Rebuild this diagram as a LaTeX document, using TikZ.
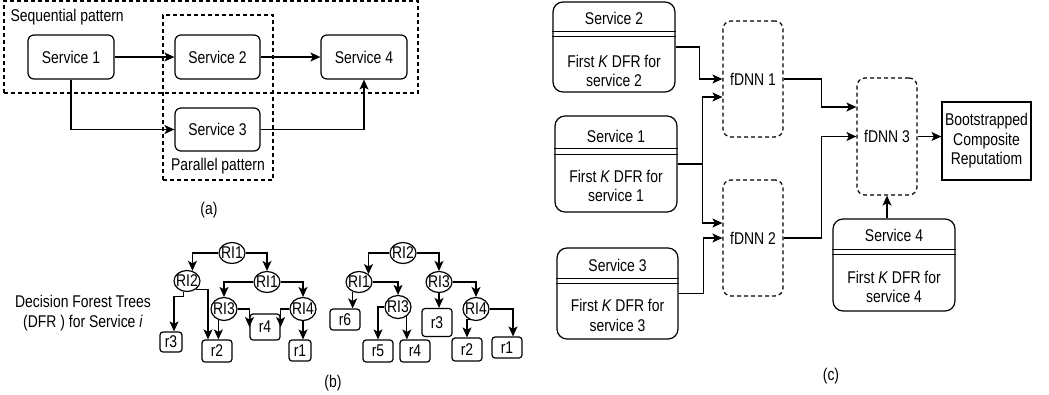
\documentclass[tikz,border=0pt]{standalone}
\usepackage{fontspec}
\setmainfont{Liberation Sans}[FakeStretch=0.82]
\usetikzlibrary{arrows.meta,shapes.geometric,calc}
\begin{document}
\begin{tikzpicture}[x=1pt,y=-1pt,
  every node/.style={font=\fontsize{17}{19.5}\selectfont, inner sep=0pt},
  line width=1.2pt,
  arr/.style={-{Stealth[length=10pt,width=9pt,inset=2.5pt]}},
  sbox/.style={draw, rounded corners=6pt, minimum width=86pt, minimum height=44pt},
  grp/.style={draw, dash pattern=on 4pt off 3pt},
  rinode/.style={draw, ellipse, minimum width=26pt, minimum height=21pt},
  leaf/.style={draw, rounded corners=3pt, minimum width=30pt, minimum height=22pt},
  lane/.style={draw, rounded corners=10pt, minimum width=122pt},
  fdnn/.style={draw, dash pattern=on 4pt off 3pt, rounded corners=8pt, minimum width=60pt, minimum height=116pt},
]
\useasboundingbox (0,0) rectangle (1049,394);

% ---------------- (a) ----------------
\node[grp, minimum width=414pt, minimum height=92pt] (seq) at (211,47) {};
\node[grp, minimum width=110pt, minimum height=165pt] (par) at (218,97.5) {};
\node[anchor=west] (seql) at (10,17) {Sequential pattern};
\node (parl) at (218,166) {Parallel pattern};
\node[sbox] (s1) at (71,57) {Service 1};
\node[sbox, minimum width=85pt] (s2) at (217.5,57) {Service 2};
\node[sbox] (s4) at (364,57) {Service 4};
\node[sbox, minimum width=85pt, minimum height=43pt] (s3) at (217.5,129.5) {Service 3};
\draw[arr] (s1.east) -- (s2.west);
\draw[arr] (s2.east) -- (s4.west);
\draw[arr] (s1.south) |- (s3.west);
\draw[arr] (s3.east) -| (s4.south);
\node (capa) at (209,210) {(a)};

% ---------------- (b) ----------------
\node[align=center] (dfr) at (83,313) {Decision Forest Trees\\(DFR ) for Service \textit{i}};
% tree 1
\node[rinode] (ta) at (232,253) {\makebox[0pt]{RI1}};
\node[rinode] (tb) at (187,281) {\makebox[0pt]{RI2}};
\node[rinode] (tc) at (267,282) {\makebox[0pt]{RI1}};
\node[rinode, minimum height=23pt] (td) at (224,309) {\makebox[0pt]{RI3}};
\node[rinode, minimum height=23pt] (te) at (303,309) {\makebox[0pt]{RI4}};
\node[leaf, minimum width=22pt, minimum height=20pt] (u3) at (171,342) {r3};
\node[leaf] (u2) at (217,351) {r2};
\node[leaf, minimum height=26pt] (u4) at (265,327) {r4};
\node[leaf, minimum width=22pt, minimum height=21pt] (u1) at (300,350.5) {r1};
\draw[arr] (ta.west) -| (tb.62);
\draw[arr] (ta.east) -| (tc.north);
\draw[arr] (tb.250) -- ++(0,5) -| ([xshift=3pt]u3.north);
\draw[arr] (tb.-45) -| ([xshift=-9pt]u2.north);
\draw[arr] (tc.west) -| (td.north);
\draw[arr] (tc.east) -| (te.north);
\draw[arr] (td.243) -- (td.243 |- u2.north);
\draw[arr] (td.east) -| (u4.west);
\draw[arr] (te.west) -| (u4.east);
\draw[arr] (te.south) -- (te.south |- u1.north);
% tree 2
\node[rinode] (va) at (403,253) {\makebox[0pt]{RI2}};
\node[rinode] (vb) at (359,282) {\makebox[0pt]{RI1}};
\node[rinode] (vc) at (439,282) {\makebox[0pt]{RI3}};
\node[rinode, minimum height=23pt] (vd) at (398,307) {\makebox[0pt]{RI3}};
\node[rinode, minimum height=23pt] (ve) at (476,309) {\makebox[0pt]{RI4}};
\node[leaf, minimum height=21pt] (w6) at (345,319.5) {r6};
\node[leaf] (w5) at (378,351) {r5};
\node[leaf] (w4) at (415,351) {r4};
\node[leaf, minimum height=28pt] (w3) at (437,322.5) {r3};
\node[leaf, minimum height=23pt] (w2) at (467,349.5) {r2};
\node[leaf, minimum height=21pt] (w1) at (507,347.5) {r1};
\draw[arr] (va.west) -| (vb.40);
\draw[arr] (va.east) -| (vc.north);
\draw[arr] (vb.237) -- (vb.237 |- w6.north);
\draw[arr] (vb.east) -| (vd.north);
\draw[arr] (vd.west) -| (w5.north);
\draw[arr] (vd.-46) -- (vd.-46 |- w4.north);
\draw[arr] (vc.south) -- (vc.south |- w3.north);
\draw[arr] (vc.east) -| (ve.north);
\draw[arr] (ve.240) -| (w2.north);
\draw[arr] (ve.east) -| ([xshift=6pt]w1.north);
\node (capb) at (333,383) {(b)};

% ---------------- (c) ----------------
\node[lane, minimum height=90pt] (sv2) at (614,47) {};
\node[lane, minimum height=96pt] (sv1) at (616,164) {};
\node[lane, minimum width=121pt, minimum height=91pt] (sv3) at (617.5,293.5) {};
\node[lane, minimum height=92pt] (sv4) at (894,265) {};
\foreach \n/\a/\b in {sv2/30/35, sv1/33/39, sv3/31/36, sv4/31/36}{
  \draw ($(\n.north west)+(0,\a)$) -- ($(\n.north east)+(0,\a)$);
  \draw ($(\n.north west)+(0,\b)$) -- ($(\n.north east)+(0,\b)$);
}
\node (sv2h) at (614,18) {Service 2};
\node[align=center] (sv2b) at (614,71) {First \textit{K} DFR for\\service 2};
\node (sv1h) at (616,136) {Service 1};
\node[align=center] (sv1b) at (616,186) {First \textit{K} DFR for\\service 1};
\node (sv3h) at (617.5,265) {Service 3};
\node[align=center] (sv3b) at (617.5,315.5) {First \textit{K} DFR for\\service 3};
\node (sv4h) at (894,235) {Service 4};
\node[align=center] (sv4b) at (894,287) {First \textit{K} DFR for\\service 4};

\node[fdnn] (fd1) at (753,79) {fDNN 1};
\node[fdnn] (fd2) at (753,238) {fDNN 2};
\node[fdnn, minimum height=117pt] (fd3) at (887,136.5) {fDNN 3};
\node[draw, minimum width=89pt, minimum height=78pt, align=center] (boot) at (986.5,141) {Bootstrapped\\Composite\\Reputatiom};

\draw[arr] (sv2.east) -- ++(24,0) |- (fd1.west);
\draw[arr] (sv1.east) -- ++(25,0) |- ($(fd1.west)+(0,18)$);
\draw[arr] (sv1.east) -- ++(25,0) |- ($(fd2.west)+(0,-15)$);
\draw[arr] (sv3.east) -- ++(24.5,0) |- (fd2.west);
\draw[arr] (fd1.east) -- ++(38,0) |- ($(fd3.west)+(0,-29.5)$);
\draw[arr] (fd2.east) -- ++(38,0) |- (fd3.west);
\draw[arr] (fd3.east) -- (fd3.east -| boot.west);
\draw[arr] (fd3.south |- sv4.north) -- (fd3.south);
\node (capc) at (831,376) {(c)};
\end{tikzpicture}
\end{document}
